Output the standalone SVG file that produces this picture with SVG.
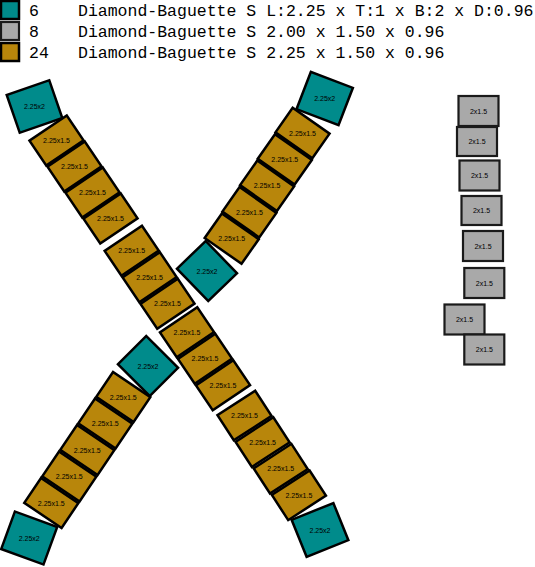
<svg xmlns="http://www.w3.org/2000/svg" width="535" height="567" viewBox="0 0 535 567">
<defs>
<style>
.t{fill:#008b8b;stroke:#000;stroke-width:2.5}
.g{fill:#b8860b;stroke:#000;stroke-width:2.5}
.s{fill:#a9a9a9;stroke:#1a1a1a;stroke-width:2.2}
.lg{font-family:"Liberation Mono","DejaVu Sans Mono",monospace;font-size:16.5px;fill:#000}
.lb{font-family:"Liberation Sans",Arial,sans-serif;font-size:7px;fill:#000;text-anchor:middle;dominant-baseline:central}
</style>
<rect id="T" class="t" x="-22.5" y="-20" width="45" height="40"/>
<rect id="G" class="g" x="-22.5" y="-15" width="45" height="30"/>
</defs>
<g id="legend">
<rect class="t" x="1" y="1" width="18" height="18"/>
<rect class="s" x="1" y="22" width="18" height="18" stroke="#000"/>
<rect class="g" x="1" y="43" width="18" height="18" stroke-width="2"/>
<text class="lg" x="29" y="16">6</text>
<text class="lg" x="78" y="16">Diamond-Baguette S L:2.25 x T:1 x B:2 x D:0.96</text>
<text class="lg" x="29" y="37">8</text>
<text class="lg" x="78" y="37">Diamond-Baguette S 2.00 x 1.50 x 0.96</text>
<text class="lg" x="29" y="58">24</text>
<text class="lg" x="78" y="58">Diamond-Baguette S 2.25 x 1.50 x 0.96</text>
</g>
<g id="connectors"></g>
<!-- teal -->
<g id="t1"><use href="#T" transform="translate(34.5,106.5) rotate(-19)"/><text class="lb" x="34.5" y="106.5">2.25x2</text></g>
<g id="t2"><use href="#T" transform="translate(324.7,98.5) rotate(21)"/><text class="lb" x="324.7" y="98.5">2.25x2</text></g>
<g id="t3"><use href="#T" transform="translate(207,271) rotate(46)"/><text class="lb" x="207" y="271">2.25x2</text></g>
<g id="t4"><use href="#T" transform="translate(148,366) rotate(45)"/><text class="lb" x="148" y="366">2.25x2</text></g>
<g id="t5"><use href="#T" transform="translate(29.2,538) rotate(20)"/><text class="lb" x="29.2" y="538">2.25x2</text></g>
<g id="t6"><use href="#T" transform="translate(320,530) rotate(-22)"/><text class="lb" x="320" y="530">2.25x2</text></g>
<!-- gold main strip -->
<g id="a1"><use href="#G" transform="translate(56.5,140.5) rotate(-34)"/><text class="lb" x="56.5" y="140.5">2.25x1.5</text></g>
<g id="a2"><use href="#G" transform="translate(74.5,166.5) rotate(-34)"/><text class="lb" x="74.5" y="166.5">2.25x1.5</text></g>
<g id="a3"><use href="#G" transform="translate(92.5,192.5) rotate(-34)"/><text class="lb" x="92.5" y="192.5">2.25x1.5</text></g>
<g id="a4"><use href="#G" transform="translate(110.5,218.5) rotate(-34)"/><text class="lb" x="110.5" y="218.5">2.25x1.5</text></g>
<g id="a5"><use href="#G" transform="translate(131.7,250.7) rotate(-34)"/><text class="lb" x="131.7" y="250.7">2.25x1.5</text></g>
<g id="a6"><use href="#G" transform="translate(149.6,277.2) rotate(-34)"/><text class="lb" x="149.6" y="277.2">2.25x1.5</text></g>
<g id="a7"><use href="#G" transform="translate(167.5,303.7) rotate(-34)"/><text class="lb" x="167.5" y="303.7">2.25x1.5</text></g>
<g id="a8"><use href="#G" transform="translate(187,332.3) rotate(-34)"/><text class="lb" x="187" y="332.3">2.25x1.5</text></g>
<g id="a9"><use href="#G" transform="translate(205,358.8) rotate(-34)"/><text class="lb" x="205" y="358.8">2.25x1.5</text></g>
<g id="a10"><use href="#G" transform="translate(223,385.3) rotate(-34)"/><text class="lb" x="223" y="385.3">2.25x1.5</text></g>
<g id="a11"><use href="#G" transform="translate(244.5,415.5) rotate(-33)"/><text class="lb" x="244.5" y="415.5">2.25x1.5</text></g>
<g id="a12"><use href="#G" transform="translate(262.6,442.1) rotate(-33)"/><text class="lb" x="262.6" y="442.1">2.25x1.5</text></g>
<g id="a13"><use href="#G" transform="translate(280.7,468.7) rotate(-33)"/><text class="lb" x="280.7" y="468.7">2.25x1.5</text></g>
<g id="a14"><use href="#G" transform="translate(298.9,495.3) rotate(-33)"/><text class="lb" x="298.9" y="495.3">2.25x1.5</text></g>
<!-- gold right strip -->
<g id="b1"><use href="#G" transform="translate(302.5,133) rotate(35)"/><text class="lb" x="302.5" y="133">2.25x1.5</text></g>
<g id="b2"><use href="#G" transform="translate(284.8,159.4) rotate(35)"/><text class="lb" x="284.8" y="159.4">2.25x1.5</text></g>
<g id="b3"><use href="#G" transform="translate(267.1,185.8) rotate(35)"/><text class="lb" x="267.1" y="185.8">2.25x1.5</text></g>
<g id="b4"><use href="#G" transform="translate(249.4,212.2) rotate(35)"/><text class="lb" x="249.4" y="212.2">2.25x1.5</text></g>
<g id="b5"><use href="#G" transform="translate(231.7,238.6) rotate(35)"/><text class="lb" x="231.7" y="238.6">2.25x1.5</text></g>
<!-- gold lower-left strip -->
<g id="c1"><use href="#G" transform="translate(123.3,397) rotate(34)"/><text class="lb" x="123.3" y="397">2.25x1.5</text></g>
<g id="c2"><use href="#G" transform="translate(105.3,423.5) rotate(34)"/><text class="lb" x="105.3" y="423.5">2.25x1.5</text></g>
<g id="c3"><use href="#G" transform="translate(87.3,450) rotate(34)"/><text class="lb" x="87.3" y="450">2.25x1.5</text></g>
<g id="c4"><use href="#G" transform="translate(69.3,476.5) rotate(34)"/><text class="lb" x="69.3" y="476.5">2.25x1.5</text></g>
<g id="c5"><use href="#G" transform="translate(51.3,503) rotate(34)"/><text class="lb" x="51.3" y="503">2.25x1.5</text></g>
<!-- gray column -->
<g id="s1"><rect class="s" x="458.5" y="96" width="40" height="30"/><text class="lb" x="478.5" y="111">2x1.5</text></g>
<g id="s2"><rect class="s" x="457" y="127" width="40" height="29" stroke-width="2.5"/><text class="lb" x="477" y="141.5">2x1.5</text></g>
<g id="s3"><rect class="s" x="459.5" y="160.5" width="40" height="30"/><text class="lb" x="479.5" y="175.5">2x1.5</text></g>
<g id="s4"><rect class="s" x="461.5" y="196" width="40" height="29"/><text class="lb" x="481.5" y="210.5">2x1.5</text></g>
<g id="s5"><rect class="s" x="463" y="231" width="40" height="30"/><text class="lb" x="483" y="246">2x1.5</text></g>
<g id="s6"><rect class="s" x="464.3" y="268" width="40" height="30"/><text class="lb" x="484.3" y="283">2x1.5</text></g>
<g id="s7"><rect class="s" x="444.5" y="304.5" width="40" height="30"/><text class="lb" x="464.5" y="319.5">2x1.5</text></g>
<g id="s8"><rect class="s" x="464.3" y="334.5" width="40" height="30"/><text class="lb" x="484.3" y="349.5">2x1.5</text></g>
</svg>
